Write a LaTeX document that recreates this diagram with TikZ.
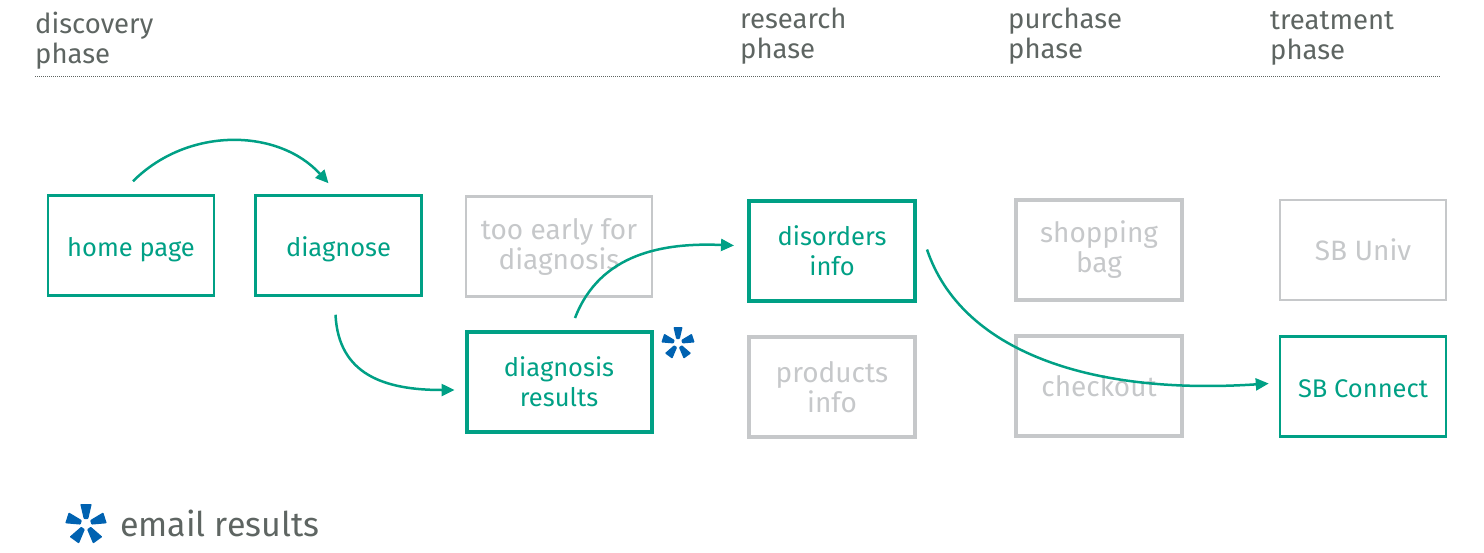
\documentclass[tikz,border=0pt]{standalone}
\usepackage{fontspec}
\setmainfont{Fira Sans}
\usetikzlibrary{arrows.meta}
\definecolor{flowgreen}{HTML}{00A085}
\definecolor{offgrey}{HTML}{C6C8CA}
\definecolor{headgrey}{HTML}{5E6562}
\definecolor{mailblue}{HTML}{0062B1}
\tikzset{
  mailstar/.pic={
    \foreach \a in {90,162,234,306,18}
      \fill[mailblue, rotate=\a, rounded corners=0.8pt] (4,-1.8) -- (16,-4.6) -- (16,4.6) -- (4,1.8) -- cycle;
  }
}

\begin{document}
\begin{tikzpicture}[x=1pt,y=-1pt,
  box/.style={rectangle, align=center, inner sep=0pt, minimum width=166pt, minimum height=100pt},
  oneline/.style={text height=21pt, text depth=0pt},
  livebox/.style={box, draw=flowgreen, text=flowgreen, line width=2.5pt, font=\fontsize{25.5}{30}\selectfont},
  hotbox/.style={box, draw=flowgreen, text=flowgreen, line width=4pt, font=\fontsize{25.5}{30}\selectfont},
  deadbox/.style={box, draw=offgrey, text=offgrey, line width=2.5pt, font=\fontsize{28}{30}\selectfont},
  lockbox/.style={box, draw=offgrey, text=offgrey, line width=4pt, font=\fontsize{28}{30}\selectfont},
  phase/.style={anchor=north west, align=left, inner sep=0pt, text=headgrey, font=\fontsize{27.5}{30}\selectfont},
  flow/.style={draw=flowgreen, line width=2.5pt, -{Triangle[length=13pt,width=12pt]}}]
  \useasboundingbox (0,0) rectangle (1484,552);

  \node[phase] (p1) at (35,12) {discovery\\phase};
  \node[phase] (p2) at (740,8) {research\\phase};
  \node[phase] (p3) at (1008,8) {purchase\\phase};
  \node[phase] (p4) at (1270,11) {treatment\\phase};
  \draw[headgrey, line width=0.8pt, dash pattern=on 0.8pt off 1.2pt] (35,76) -- (1440,76);

  \node[livebox, oneline] (home) at (131,245.5) {home page};
  \node[livebox, oneline] (diag) at (338.5,245.5) {diagnose};
  \node[deadbox, minimum width=186pt] (early) at (559,246.5) {too early for\\diagnosis};
  \node[hotbox, minimum width=185pt] (res) at (559,382) {diagnosis\\results};
  \node[hotbox] (dis) at (832,250.5) {disorders\\info};
  \node[lockbox] (prod) at (832,387) {products\\info};
  \node[lockbox] (bag) at (1099,250) {shopping\\bag};
  \node[lockbox, oneline] (chk) at (1099,386) {checkout};
  \node[deadbox, oneline] (univ) at (1363,250) {SB Univ};
  \node[livebox, oneline] (conn) at (1363,386.5) {SB Connect};

  \pic at (678,343) {mailstar};

  \draw[flow] ([xshift=2pt,yshift=13pt]home.north) .. controls +(55,-55) and +(-50,-55) .. ([xshift=-10pt,yshift=11pt]diag.north);
  \draw[flow] ([xshift=-3pt,yshift=-18pt]diag.south) .. controls +(3,60) and +(-70,0) .. ([xshift=-10pt,yshift=-8pt]res.west);
  \draw[flow] ([xshift=16pt,yshift=12pt]res.north) .. controls +(25,-65) and +(-70,-3) .. ([xshift=-13pt,yshift=5pt]dis.west);
  \draw[flow] ([xshift=10pt,yshift=1pt]dis.east) .. controls +(34,101) and +(-180,12) .. ([xshift=-10pt,yshift=3pt]conn.west);

  \pic[scale=1.25] at (86,524) {mailstar};
  \node[anchor=base west, inner sep=0pt, text=headgrey, font=\fontsize{34}{40}\selectfont] (mail) at (120,536) {email results};
\end{tikzpicture}
\end{document}
